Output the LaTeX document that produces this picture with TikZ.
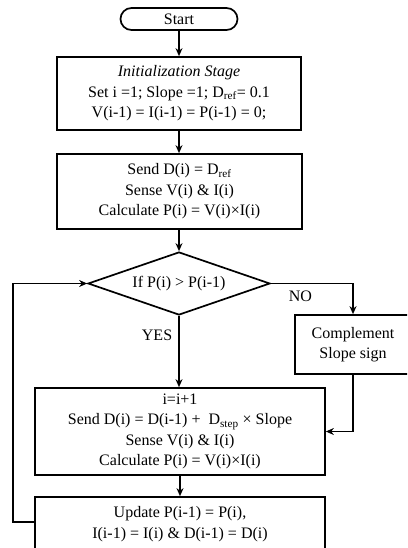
\documentclass[tikz,border=0pt]{standalone}
\usepackage{fontspec}
\setmainfont{Liberation Serif}
\usetikzlibrary{shapes.geometric,arrows.meta}
\begin{document}
\begin{tikzpicture}[x=1pt,y=-1pt,
  every node/.style={font=\fontsize{16}{20.5}\selectfont, align=center, inner sep=0pt},
  box/.style={draw, line width=1.7pt, rectangle},
  conn/.style={line width=1.7pt, -{Stealth[length=8pt,width=7pt]}},
  line/.style={line width=1.7pt}]
\useasboundingbox (0,0) rectangle (407,548);
\clip (0,0) rectangle (407,548);
\node[box, rounded corners=11pt, minimum width=117pt, minimum height=22pt] (start) at (179,19) {Start};
\node[box, minimum width=244pt, minimum height=73pt] (init) at (179,93.5)
  {\textit{Initialization Stage}\\ Set i =1; Slope =1; D\textsubscript{ref}= 0.1\\ V(i-1) = I(i-1) = P(i-1) = 0;};
\node[box, minimum width=245pt, minimum height=75pt] (send) at (179.5,191.5)
  {Send D(i) = D\textsubscript{ref}\\ Sense V(i) \& I(i)\\ Calculate P(i) = V(i)×I(i)};
\node[draw, line width=1.7pt, diamond, shape aspect=2.9, minimum width=182pt, minimum height=63pt] (dec) at (179,283.5)
  {If P(i) > P(i-1)};
\node[box, minimum width=116pt, minimum height=59pt] (comp) at (353,344.5)
  {Complement\\ Slope sign};
\node[box, minimum width=290pt, minimum height=87pt] (inc) at (180,431.5)
  {i=i+1\\ Send D(i) = D(i-1) + \ D\textsubscript{step} × Slope\\ Sense V(i) \& I(i)\\ Calculate P(i) = V(i)×I(i)};
\node[box, minimum width=290pt, minimum height=54pt] (upd) at (180,524)
  {Update P(i-1) = P(i),\\ I(i-1) = I(i) \& D(i-1) = D(i)};
\coordinate (lb) at (13,522);
\draw[conn] (start.south) -- (start.south |- init.north);
\draw[conn] (init.south) -- (init.south |- send.north);
\draw[conn] (send.south -| dec.north) -- (dec.north);
\draw[conn] (dec.east) -| (comp.north) node[pos=0.18, below=7pt] {NO};
\draw[conn] (dec.south) -- (dec.south |- inc.north) node[pos=0.27, left=6pt] {YES};
\draw[conn] (comp.south) |- (inc.east);
\draw[conn] (inc.south) -- (inc.south |- upd.north);
\draw[conn] (upd.west |- lb) -- (lb) |- (dec.west);
\end{tikzpicture}
\end{document}
